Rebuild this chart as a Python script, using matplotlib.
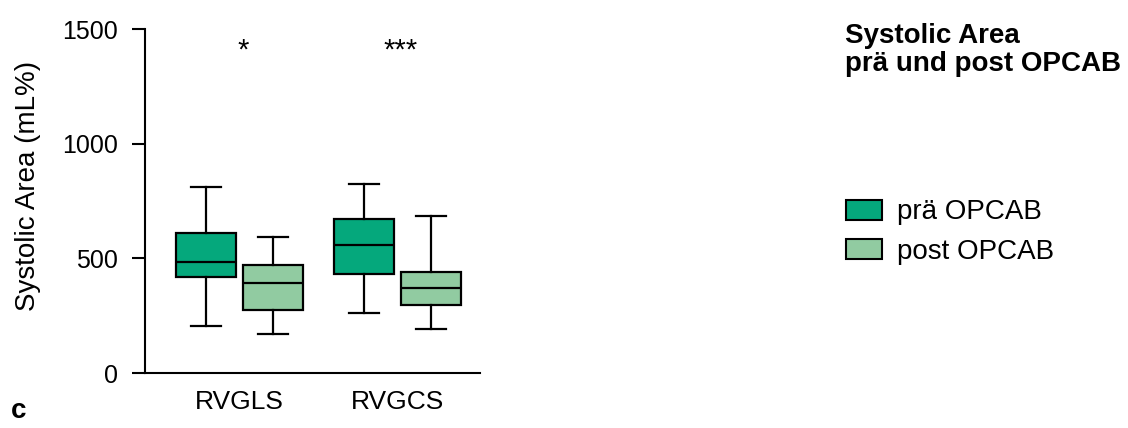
import matplotlib.pyplot as plt
from matplotlib.patches import Patch

plt.rcParams['font.family'] = ['Liberation Sans', 'DejaVu Sans']

# Werte
groups = ['RVGLS', 'RVGCS']
series = ['prä OPCAB', 'post OPCAB']
colors = ['#05a87c', '#91cba1']
# je Gruppe: [prä, post]
whislo = [[205, 170], [262, 193]]
q1 = [[419, 275], [431, 297]]
med = [[484, 392], [558, 372]]
q3 = [[610, 471], [672, 440]]
whishi = [[811, 593], [824, 685]]
stars = ['*', '***']

fig = plt.figure(figsize=(11.28, 4.28), dpi=100)
ax = fig.add_axes([0.1285, 0.1285, 0.297, 0.8037])

offset = 0.212
width = 0.38
for gi in range(len(groups)):
    for si in range(len(series)):
        st = [{'whislo': whislo[gi][si], 'q1': q1[gi][si], 'med': med[gi][si],
               'q3': q3[gi][si], 'whishi': whishi[gi][si], 'fliers': []}]
        pos = gi + 1 + (offset if si == 1 else -offset)
        ax.bxp(st, positions=[pos], widths=width, patch_artist=True, showfliers=False,
               boxprops=dict(facecolor=colors[si], edgecolor='black', linewidth=1.6),
               medianprops=dict(color='black', linewidth=1.6),
               whiskerprops=dict(color='black', linewidth=1.6),
               capprops=dict(color='black', linewidth=1.6))
    ax.text(gi + 1 + 0.02, 1405, stars[gi], ha='center', va='center', fontsize=21)

ax.set_xlim(0.402, 2.52)
ax.set_ylim(0, 1500)
ax.set_yticks([0, 500, 1000, 1500])
ax.set_xticks([1, 2])
ax.set_xticklabels(groups)
ax.tick_params(axis='y', length=9.5, width=1.5, labelsize=18, pad=10)
ax.tick_params(axis='x', length=0, labelsize=19, pad=12)
for s in ['top', 'right']:
    ax.spines[s].set_visible(False)
for s in ['left', 'bottom']:
    ax.spines[s].set_linewidth(1.5)
ax.set_ylabel('Systolic Area (mL%)', fontsize=20)
ax.yaxis.set_label_coords(-0.31, 0.544)

fig.text(0.749, 0.946, 'Systolic Area\nprä und post OPCAB', fontsize=20, fontweight='bold',
         va='top', ha='left', linespacing=1.1)
fig.text(0.01, 0.023, 'c', fontsize=20, fontweight='bold')

handles = [Patch(facecolor=c, edgecolor='black', linewidth=1.5) for c in colors]
fig.legend(handles, series, loc='upper left', bbox_to_anchor=(846 / 1128, 0.534), frameon=False,
           fontsize=20, handlelength=1.3, handleheight=0.75, handletextpad=0.54,
           labelspacing=0.47, borderpad=0, borderaxespad=0)

fig.savefig('out.png', dpi=100)
